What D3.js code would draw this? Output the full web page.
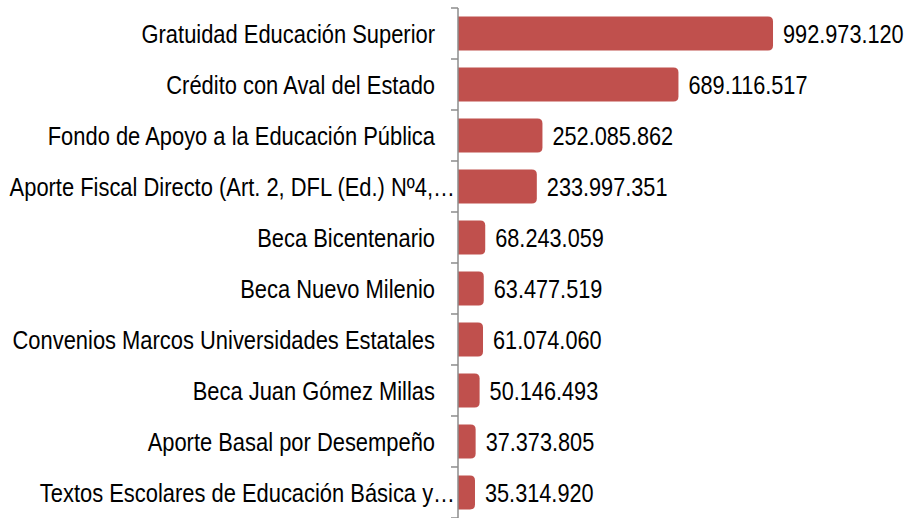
<!DOCTYPE html>
<html>
<head>
<meta charset="utf-8">
<script src="https://cdn.jsdelivr.net/npm/d3@7"></script>
<style>
  html, body { margin: 0; padding: 0; background: #ffffff; }
  svg { display: block; }
  text { font-family: "Liberation Sans", Arial, sans-serif; fill: #000; }
</style>
</head>
<body>
<svg id="chart" width="910" height="518"></svg>
<script>
// Programas de financiamiento (monto, miles de $)
const categories = [
  "Gratuidad Educación Superior",
  "Crédito con Aval del Estado",
  "Fondo de Apoyo a la Educación Pública",
  "Aporte Fiscal Directo (Art. 2, DFL (Ed.) Nº4,…",
  "Beca Bicentenario",
  "Beca Nuevo Milenio",
  "Convenios Marcos Universidades Estatales",
  "Beca Juan Gómez Millas",
  "Aporte Basal por Desempeño",
  "Textos Escolares de Educación Básica y…"
];
const values = [
  992973120,
  689116517,
  252085862,
  233997351,
  68243059,
  63477519,
  61074060,
  50146493,
  37373805,
  35314920
];
const valueLabels = [
  "992.973.120",
  "689.116.517",
  "252.085.862",
  "233.997.351",
  "68.243.059",
  "63.477.519",
  "61.074.060",
  "50.146.493",
  "37.373.805",
  "35.314.920"
];

const svg = d3.select("#chart");
const axisX = 458;
const plotTop = 8, plotBottom = 518;
const narrowCat = 0.843;   // horizontal squeeze for a narrow sans face
const narrowVal = 0.835;

// value scale: zero sits a few pixels right of the axis line (bar inset)
const x = d3.scaleLinear().domain([0, 1000000000]).range([464, 464 + 311.2]);
const y = d3.scaleBand()
  .domain(categories)
  .range([plotTop, plotBottom])
  .paddingInner(0.333)
  .paddingOuter(0.1667);

const data = categories.map((c, i) => ({ cat: c, v: values[i], lab: valueLabels[i] }));

// bars: square on the axis side, rounded on the value end
function barPath(x0, x1, y0, h, r) {
  r = Math.min(r, (x1 - x0), h / 2);
  return `M${x0},${y0}H${x1 - r}Q${x1},${y0} ${x1},${y0 + r}V${y0 + h - r}Q${x1},${y0 + h} ${x1 - r},${y0 + h}H${x0}Z`;
}

svg.append("g").selectAll("path")
  .data(data)
  .join("path")
  .attr("d", d => barPath(axisX, x(d.v), y(d.cat), y.bandwidth(), 5))
  .attr("fill", "#c0504d");

// category axis with ticks between bands
const ax = svg.append("g");
ax.append("line")
  .attr("x1", axisX).attr("x2", axisX)
  .attr("y1", plotTop).attr("y2", plotBottom)
  .attr("stroke", "#8c8c8c").attr("stroke-width", 1.5);
const tickPos = categories.map(c => y(c) - y.step() * y.paddingOuter()).concat([plotBottom]);
ax.selectAll("line.tick")
  .data(tickPos)
  .join("line")
  .attr("class", "tick")
  .attr("x1", axisX - 7).attr("x2", axisX)
  .attr("y1", d => d).attr("y2", d => d)
  .attr("stroke", "#8c8c8c").attr("stroke-width", 1.5);

// category labels
svg.append("g").selectAll("g")
  .data(data)
  .join("g")
  .attr("transform", d => `translate(${d.cat.endsWith("…") ? 455 : 435},${y(d.cat) + y.bandwidth() / 2}) scale(${narrowCat},1)`)
  .append("text")
  .attr("dy", "0.36em")
  .attr("text-anchor", "end")
  .attr("font-size", 26)
  .text(d => d.cat);

// value labels
svg.append("g").selectAll("g")
  .data(data)
  .join("g")
  .attr("transform", d => `translate(${x(d.v) + 10},${y(d.cat) + y.bandwidth() / 2}) scale(${narrowVal},1)`)
  .append("text")
  .attr("dy", "0.36em")
  .attr("font-size", 26)
  .text(d => d.lab);
</script>
</body>
</html>
